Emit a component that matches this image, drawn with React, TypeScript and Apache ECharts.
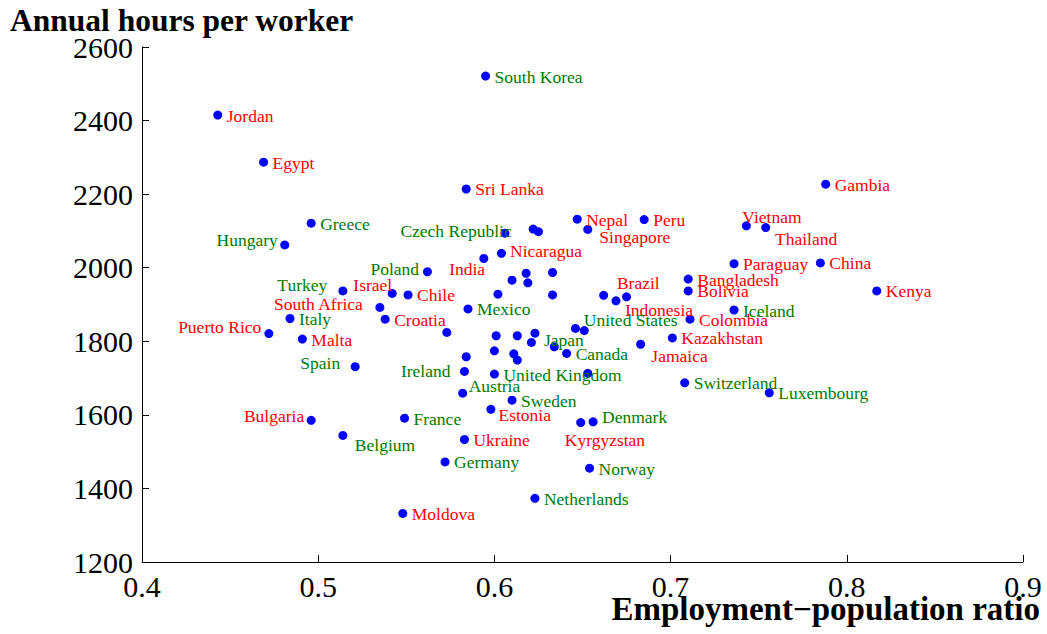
import React, { useEffect, useRef } from "react";
import * as echarts from "echarts";

// ---- Data ----
const developingNames = [
  "Jordan", "Egypt", "Sri Lanka", "Gambia", "Nepal", "Peru", "Singapore", "Vietnam",
  "Thailand", "Nicaragua", "India", "Paraguay", "China", "Bangladesh", "Bolivia", "Kenya",
  "Israel", "Chile", "Brazil", "Indonesia", "South Africa", "Croatia", "Colombia",
  "Puerto Rico", "Kazakhstan", "Malta", "Jamaica", "Estonia", "Bulgaria", "Kyrgyzstan",
  "Ukraine", "Moldova",
];
const developingRatio = [
  0.443, 0.469, 0.584, 0.788, 0.647, 0.685, 0.653, 0.743,
  0.754, 0.604, 0.594, 0.736, 0.785, 0.710, 0.710, 0.817,
  0.542, 0.551, 0.675, 0.669, 0.535, 0.538, 0.711,
  0.472, 0.701, 0.491, 0.683, 0.598, 0.496, 0.649,
  0.583, 0.548,
];
const developingHours = [
  2415, 2287, 2214, 2227, 2132, 2131, 2104, 2114,
  2109, 2039, 2025, 2011, 2013, 1969, 1937, 1937,
  1930, 1926, 1921, 1910, 1892, 1860, 1860,
  1821, 1809, 1806, 1792, 1615, 1585, 1579,
  1533, 1332,
];

const developedNames = [
  "South Korea", "Greece", "Czech Republic", "Hungary", "Poland", "Turkey", "Mexico",
  "Iceland", "Italy", "United States", "Japan", "Canada", "Spain", "Ireland",
  "United Kingdom", "Switzerland", "Luxembourg", "Austria", "Sweden", "France",
  "Denmark", "Belgium", "Germany", "Norway", "Netherlands",
];
const developedRatio = [
  0.595, 0.496, 0.606, 0.481, 0.562, 0.514, 0.585,
  0.736, 0.484, 0.646, 0.621, 0.641, 0.521, 0.583,
  0.600, 0.708, 0.756, 0.582, 0.610, 0.549,
  0.656, 0.514, 0.572, 0.654, 0.623,
];
const developedHours = [
  2521, 2121, 2094, 2062, 1989, 1937, 1888,
  1885, 1862, 1835, 1797, 1767, 1731, 1718,
  1711, 1687, 1660, 1659, 1640, 1591,
  1581, 1544, 1472, 1455, 1373,
];

// unlabeled points
const otherRatio = [
  0.622, 0.625, 0.618, 0.633, 0.610, 0.619, 0.602, 0.633, 0.662, 0.651,
  0.573, 0.623, 0.601, 0.613, 0.634, 0.600, 0.611, 0.584, 0.613, 0.653,
];
const otherHours = [
  2105, 2098, 1985, 1987, 1966, 1959, 1928, 1926, 1925, 1829,
  1824, 1822, 1815, 1815, 1785, 1774, 1766, 1758, 1749, 1713,
];

const xTitle = "Employment\u2212population ratio";
const yTitle = "Annual hours per worker";

// ---- Label layout (side, dx, dy in px relative to the dot) ----
const LABEL_LAYOUT: Record<string, [string, number, number]> = {
  Singapore: ["r", 11.5, 8],
  "Czech Republic": ["l", 6.7, -2],
  Hungary: ["l", -7, -5],
  Vietnam: ["r", -4, -9],
  Thailand: ["r", 9.3, 11.6],
  Nicaragua: ["r", 8.6, -2.6],
  India: ["l", 1.3, 10],
  Poland: ["l", -8.4, -2.7],
  Turkey: ["l", -15.6, -5.7],
  Israel: ["l", 0, -8],
  "South Africa": ["l", -17, -3.3],
  "United States": ["r", 8.3, -8.3],
  "Puerto Rico": ["l", -7.6, -7],
  Japan: ["r", 12.6, -2.3],
  Jamaica: ["r", 10.7, 11.7],
  Spain: ["l", -15, -3.4],
  Ireland: ["l", -14, -0.8],
  Austria: ["r", 6, -7.3],
  Estonia: ["r", 7.6, 5.7],
  Bulgaria: ["l", -7, -4.5],
  Denmark: ["r", 9, -5.3],
  Kyrgyzstan: ["r", -16, 17.3],
  Belgium: ["r", 12, 9.5],
  Brazil: ["r", -9.6, -13.4],
  Indonesia: ["r", 9, 9.3],
};
const DEFAULT_LAYOUT: [string, number, number] = ["r", 9, 0.5];

const SERIF = "'Liberation Serif', 'Times New Roman', serif";

function buildItems(names: string[], xs: number[], ys: number[]) {
  return names.map((name, i) => {
    const [side, dx, dy] = LABEL_LAYOUT[name] || DEFAULT_LAYOUT;
    return {
      name,
      value: [xs[i], ys[i]],
      label: {
        show: true,
        position: "inside",
        align: side === "r" ? "left" : "right",
        verticalAlign: "middle",
        offset: [dx, dy],
      },
    };
  });
}

export default function App() {
  const ref = useRef<HTMLDivElement>(null);

  useEffect(() => {
    if (!ref.current) return;
    const chart = echarts.init(ref.current, undefined, { renderer: "svg" });

    const dotStyle = { color: "#0000ff", opacity: 1 };
    const labelBase = {
      show: true,
      formatter: "{b}",
      fontFamily: SERIF,
      fontSize: 17.5,
      opacity: 1,
    };

    chart.setOption({
      animation: false,
      backgroundColor: "#ffffff",
      grid: { left: 142, right: 24, top: 47, bottom: 72, containLabel: false },
      xAxis: {
        type: "value",
        min: 0.4,
        max: 0.9,
        interval: 0.1,
        axisLine: { show: true, lineStyle: { color: "#000", width: 1 } },
        axisTick: { show: true, inside: true, length: 7, lineStyle: { color: "#000" } },
        axisLabel: {
          color: "#000",
          fontFamily: SERIF,
          fontSize: 30,
          margin: 9,
          showMinLabel: true,
          showMaxLabel: true,
          formatter: (v: number) => v.toFixed(1),
        },
        splitLine: { show: false },
      },
      yAxis: {
        type: "value",
        min: 1200,
        max: 2600,
        interval: 200,
        axisLine: { show: true, lineStyle: { color: "#000", width: 1 } },
        axisTick: { show: true, inside: true, length: 7, lineStyle: { color: "#000" } },
        axisLabel: {
          color: "#000",
          fontFamily: SERIF,
          fontSize: 30,
          margin: 9,
          showMinLabel: true,
          showMaxLabel: true,
          formatter: (v: number) => String(Math.round(v)),
        },
        splitLine: { show: false },
      },
      graphic: [
        {
          type: "text",
          x: 10,
          y: 20.5,
          style: {
            text: yTitle,
            fontFamily: SERIF,
            fontWeight: "bold",
            fontSize: 31.5,
            fill: "#000",
            align: "left",
            verticalAlign: "middle",
          },
        },
        {
          type: "text",
          x: 1040,
          y: 609,
          style: {
            text: xTitle,
            fontFamily: SERIF,
            fontWeight: "bold",
            fontSize: 33,
            fill: "#000",
            align: "right",
            verticalAlign: "middle",
          },
        },
      ],
      series: [
        {
          name: "other",
          type: "scatter",
          symbol: "circle",
          symbolSize: 9,
          itemStyle: dotStyle,
          silent: true,
          data: otherRatio.map((x, i) => [x, otherHours[i]]),
        },
        {
          name: "developing",
          type: "scatter",
          symbol: "circle",
          symbolSize: 9,
          itemStyle: dotStyle,
          silent: true,
          label: { ...labelBase, color: "#ff0000" },
          data: buildItems(developingNames, developingRatio, developingHours),
        },
        {
          name: "developed",
          type: "scatter",
          symbol: "circle",
          symbolSize: 9,
          itemStyle: dotStyle,
          silent: true,
          label: { ...labelBase, color: "#007a00" },
          data: buildItems(developedNames, developedRatio, developedHours),
        },
      ],
    });

    return () => chart.dispose();
  }, []);

  return (
    <div
      ref={ref}
      style={{ position: "fixed", left: 0, top: 0, width: 1047, height: 634 }}
    />
  );
}
